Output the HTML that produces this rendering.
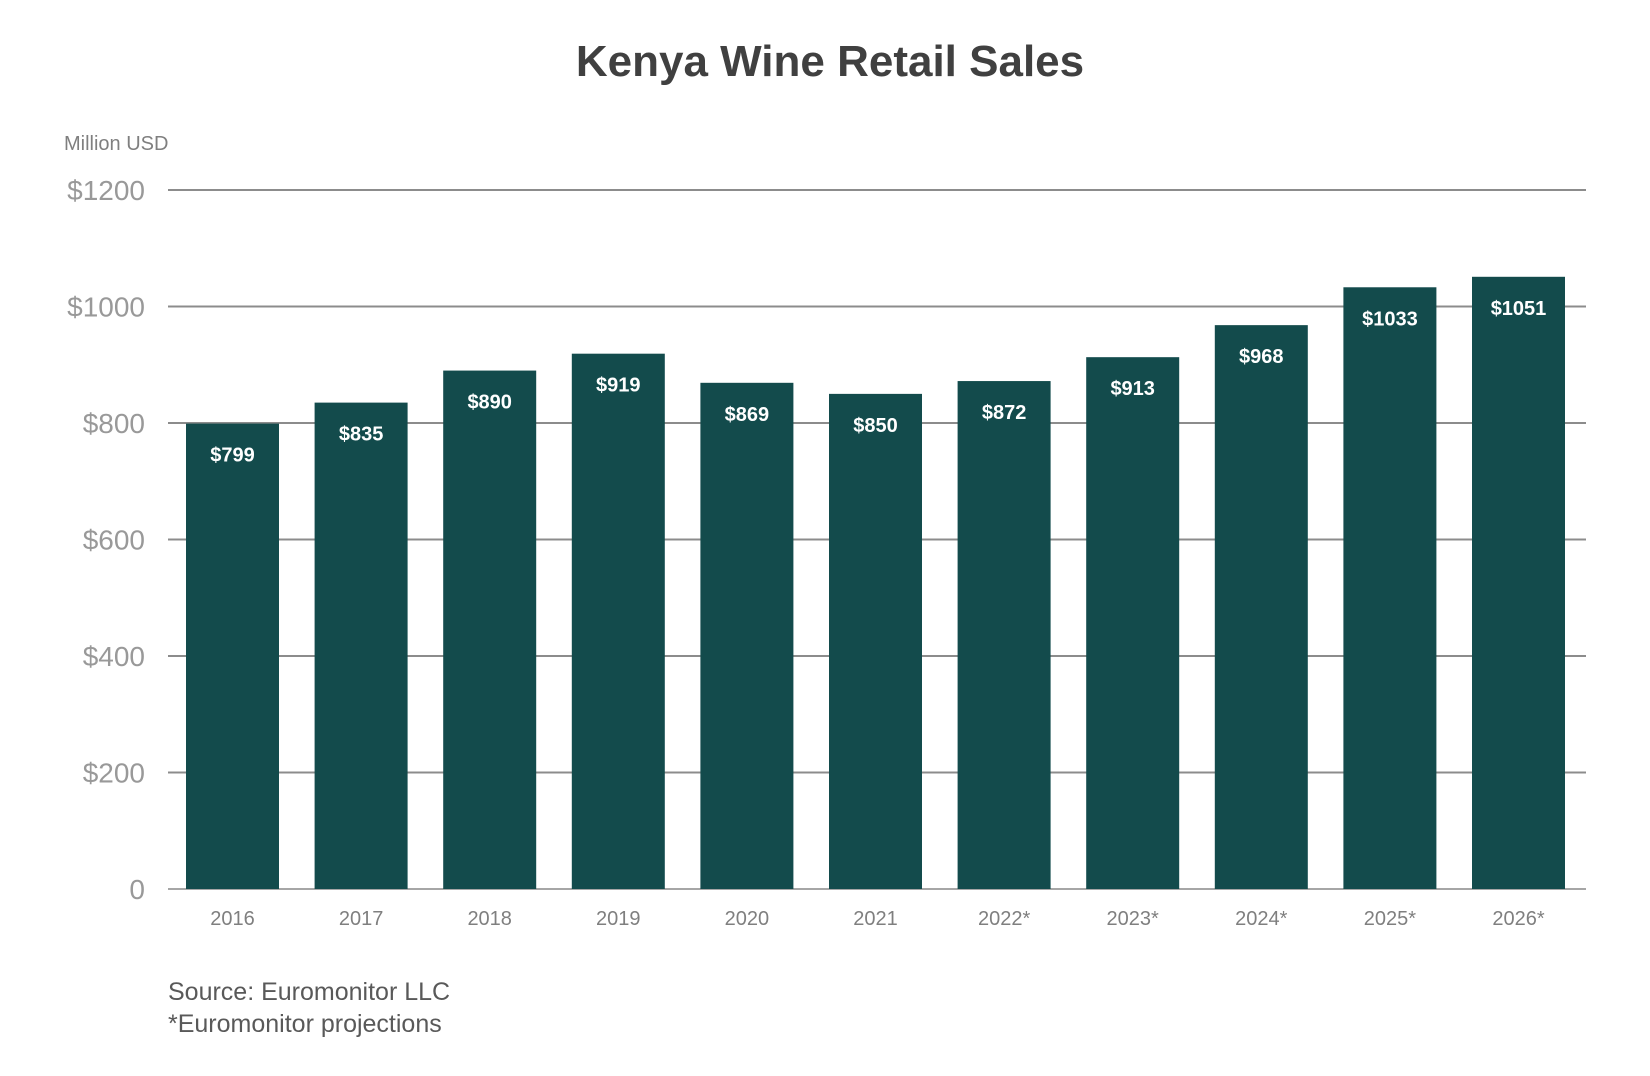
<!DOCTYPE html>
<html><head><meta charset="utf-8"><style>
body{margin:0;background:#fff;}
svg{display:block;font-family:"Liberation Sans",sans-serif;}
</style></head><body>
<svg id="chart" width="1650" height="1076">
<text x="830" y="76" text-anchor="middle" font-size="44" font-weight="bold" fill="#404040">Kenya Wine Retail Sales</text>
<text x="64" y="150" font-size="20" fill="#7f7f7f">Million USD</text>
<g id="grid"></g><g id="bars"></g>
<text x="168" y="1000" font-size="25" fill="#595959">Source: Euromonitor LLC</text>
<text x="168" y="1032" font-size="25" fill="#595959">*Euromonitor projections</text>
</svg>
<script>
const categories=["2016","2017","2018","2019","2020","2021","2022*","2023*","2024*","2025*","2026*"];
const values=[799,835,890,919,869,850,872,913,968,1033,1051];
const ticks=[0,200,400,600,800,1000,1200];
const tickLabels=["0","$200","$400","$600","$800","$1000","$1200"];
const NS="http://www.w3.org/2000/svg";
const y0=889,yTop=190,vmax=1200;
const y=v=>y0-(v/vmax)*(y0-yTop);
const x0=186,pitch=128.6,bw=93;
const x=i=>x0+i*pitch;
function mk(t,a,p){const e=document.createElementNS(NS,t);for(const k in a)e.setAttribute(k,a[k]);p.appendChild(e);return e;}
const g=document.getElementById('grid'),b=document.getElementById('bars');
ticks.forEach((t,i)=>{
 const l=mk('line',{x1:168,x2:1586,y1:y(t),y2:y(t),stroke:i==0?'#a6a6a6':'#8c8c8c','stroke-width':2},g);
 
 
 const tx=mk('text',{x:145,y:y(t)+10,'text-anchor':'end','font-size':28,fill:'#999'},g);
 tx.textContent=tickLabels[i];
 
 
});
values.forEach((v,i)=>{
 const r=mk('rect',{x:x(i),y:y(v),width:bw,height:y0-y(v),fill:'#134b4c'},b);
 
 
 const t=mk('text',{x:x(i)+bw/2,y:y(v)+38,'text-anchor':'middle','font-size':20,'font-weight':'bold',fill:'#fff'},b);
 t.textContent='$'+v;
 
 
 const c=mk('text',{x:x(i)+bw/2,y:925,'text-anchor':'middle','font-size':20,fill:'#7f7f7f'},b);
 c.textContent=categories[i];
 
 
});
</script>
</body></html>
